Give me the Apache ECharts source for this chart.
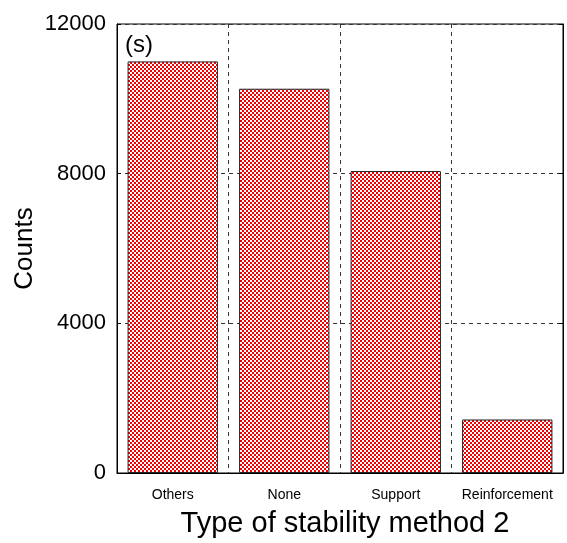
<!DOCTYPE html>
<html>
<head>
<meta charset="utf-8">
<script src="https://cdn.jsdelivr.net/npm/echarts@6/dist/echarts.min.js"></script>
<style>html,body{margin:0;padding:0;background:#fff;}#c{width:567px;height:543px;}</style>
</head>
<body>
<div id="c"></div>
<script>
var categories = ['Others', 'None', 'Support', 'Reinforcement'];
var counts = [11000, 10270, 8070, 1430];
var yTicks = [0, 4000, 8000, 12000];

function makePattern() {
  var c = document.createElement('canvas');
  c.width = 4; c.height = 4;
  var ctx = c.getContext('2d');
  var img = ctx.createImageData(4, 4);
  for (var y = 0; y < 4; y++) {
    for (var x = 0; x < 4; x++) {
      var i = (y * 4 + x) * 4;
      var red = (((x >> 1) + (y >> 1)) % 2) === 0;
      if (red) { img.data[i] = 240; img.data[i+1] = 0; img.data[i+2] = 0; }
      else { img.data[i] = 255; img.data[i+1] = 255; img.data[i+2] = 255; }
      img.data[i+3] = 255;
    }
  }
  ctx.putImageData(img, 0, 0);
  return c;
}

var chart = echarts.init(document.getElementById('c'), null, {renderer: 'canvas'});
var font = 'Liberation Sans, Arial, sans-serif';
chart.setOption({
  animation: false,
  grid: {left: 117, right: 4, top: 24, bottom: 70, show: true, borderColor: '#000', borderWidth: 1},
  xAxis: {
    type: 'category',
    data: categories,
    name: 'Type of stability method 2',
    nameLocation: 'middle',
    nameGap: 36,
    nameTextStyle: {fontFamily: font, fontSize: 29, color: '#000', padding: [0, 0, 0, 10]},
    axisLine: {lineStyle: {color: '#000', width: 1}},
    axisTick: {show: false},
    axisLabel: {interval: 0, fontFamily: font, fontSize: 14, color: '#000', margin: 15},
    splitLine: {show: true, interval: 0, lineStyle: {color: '#333', type: [4, 4], width: 1}}
  },
  yAxis: [{
    type: 'value',
    min: 0, max: 12000, interval: 4000,
    name: 'Counts',
    nameLocation: 'middle',
    nameGap: 79,
    nameMoveOverlap: false,
    nameTextStyle: {fontFamily: font, fontSize: 26, color: '#000'},
    axisLine: {show: true, lineStyle: {color: '#000', width: 1}},
    axisTick: {show: true, inside: true, length: 4, lineStyle: {color: '#000'}},
    axisLabel: {fontFamily: font, fontSize: 22, color: '#000', margin: 11,
      formatter: function (v) { return yTicks.indexOf(v) >= 0 ? String(v) : ''; }},
    splitLine: {show: true, lineStyle: {color: '#333', type: [4, 4], width: 1}}
  }, {
    type: 'value',
    min: 0, max: 12000, interval: 4000,
    position: 'right',
    axisLine: {show: true, lineStyle: {color: '#000', width: 1}},
    axisTick: {show: true, inside: true, length: 4, lineStyle: {color: '#000'}},
    axisLabel: {show: false},
    splitLine: {show: false}
  }],
  series: [{
    type: 'bar',
    data: counts,
    barWidth: '81%',
    itemStyle: {
      color: {image: makePattern(), repeat: 'repeat'},
      borderColor: '#222',
      borderWidth: 1
    }
  }],
  graphic: [{
    type: 'text',
    left: 125, top: 33,
    style: {text: '(s)', fontFamily: font, fontSize: 24, fill: '#000'}
  }]
});
</script>
</body>
</html>
